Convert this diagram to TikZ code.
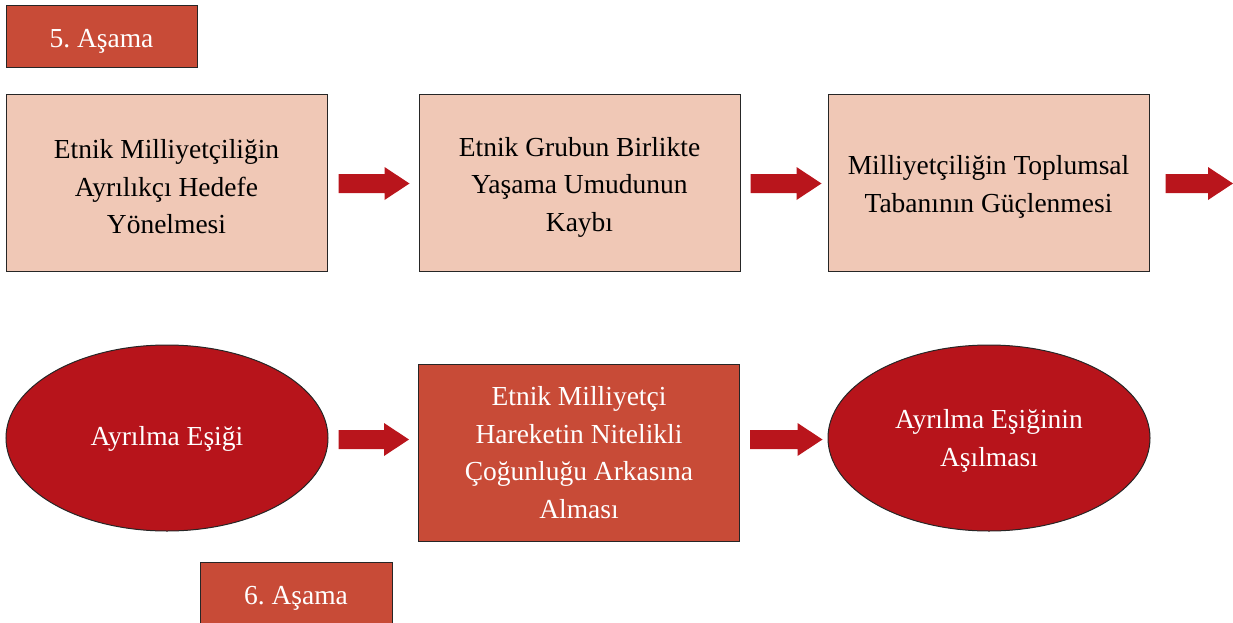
\documentclass[tikz,border=0pt]{standalone}
\usepackage{fontspec}
\setmainfont{Liberation Serif}
\frenchspacing
\usetikzlibrary{calc,shapes.geometric}

\definecolor{peach}{HTML}{F0C8B6}
\definecolor{brick}{HTML}{C84B37}
\definecolor{deepred}{HTML}{B7141B}
\definecolor{arrowred}{HTML}{B9151C}
\definecolor{edge}{HTML}{262626}

\tikzset{
  base/.style={draw=edge, line width=1pt, inner sep=0pt},
  stagebox/.style={base, fill=brick, minimum width=191pt, minimum height=62pt},
  lightbox/.style={base, fill=peach, minimum width=321pt, minimum height=176pt},
  darkbox/.style={base, fill=brick, minimum width=321pt, minimum height=177pt},
  oval/.style={base, ellipse, fill=deepred, minimum width=322pt, minimum height=186pt},
  txt/.style={inner sep=0pt, align=center, font=\fontsize{27.5}{37.5}\selectfont},
  dtxt/.style={txt, text=black},
  ltxt/.style={txt, text=white},
}

% block arrow: #1 = tail point, #2 = tip point (horizontal)
\newcommand\blockarrow[2]{%
  \fill[arrowred]
    ($(#1)+(0,-9.5)$) -- ($(#2)+(-25,-9.5)$) -- ($(#2)+(-25,-16.5)$) --
    (#2) -- ($(#2)+(-25,16.5)$) -- ($(#2)+(-25,9.5)$) -- ($(#1)+(0,9.5)$) -- cycle;}

\begin{document}
\begin{tikzpicture}[x=1pt, y=-1pt]
  \useasboundingbox (0,0) rectangle (1233,623);

  % stage labels
  \node[stagebox] (s5) at (101.5,37) {};
  \node[ltxt] (s5t) at ([yshift=-4pt]s5.center) {5. Aşama};
  \node[stagebox, minimum width=192pt] (s6) at (296,593) {};
  \node[ltxt] (s6t) at ([yshift=-5pt]s6.center) {6. Aşama};

  % upper row
  \node[lightbox] (b1) at (166.5,183) {};
  \node[dtxt] (b1t) at ([yshift=-4pt]b1.center) {Etnik Milliyetçiliğin\\Ayrılıkçı Hedefe\\Yönelmesi};
  \node[lightbox] (b2) at (579.5,183) {};
  \node[dtxt] (b2t) at ([yshift=-4pt]b2.center) {Etnik Grubun Birlikte\\Yaşama Umudunun\\Kaybı};
  \node[lightbox] (b3) at (988.5,183) {};
  \node[dtxt] (b3t) at ([yshift=-4pt]b3.center) {Milliyetçiliğin Toplumsal\\Tabanının Güçlenmesi};
  \coordinate (rim) at (1233,183);

  % lower row
  \node[oval] (e1) at (167,438) {};
  \node[ltxt] (e1t) at ([yshift=-1pt]e1.center) {Ayrılma Eşiği};
  \node[darkbox] (m) at (579,452.5) {};
  \node[ltxt] (mt) at (m.center) {Etnik Milliyetçi\\Hareketin Nitelikli\\Çoğunluğu Arkasına\\Alması};
  \node[oval] (e2) at (989,438) {};
  \node[ltxt] (e2t) at ([yshift=-3pt]e2.center) {Ayrılma Eşiğinin\\Aşılması};

  % connectors
  \coordinate (a1s) at ($(b1.east)+(11,0.5)$);
  \coordinate (a1t) at ($(b2.west)+(-9,0.5)$);
  \blockarrow{a1s}{a1t}
  \coordinate (a2s) at ($(b2.east)+(10,0.5)$);
  \coordinate (a2t) at ($(b3.west)+(-6,0.5)$);
  \blockarrow{a2s}{a2t}
  \coordinate (a3s) at ($(b3.east)+(16,0.5)$);
  \coordinate (a3t) at ($(rim)+(0,0.5)$);
  \blockarrow{a3s}{a3t}

  \coordinate (a4s) at ($(e1.east)+(10,1.5)$);
  \coordinate (a4t) at ($(e1.east -| m.west)+(-9,1.5)$);
  \blockarrow{a4s}{a4t}
  \coordinate (a5s) at ($(m.east |- e2.west)+(10,1.5)$);
  \coordinate (a5t) at ($(e2.west)+(-5,1.5)$);
  \blockarrow{a5s}{a5t}
\end{tikzpicture}
\end{document}
